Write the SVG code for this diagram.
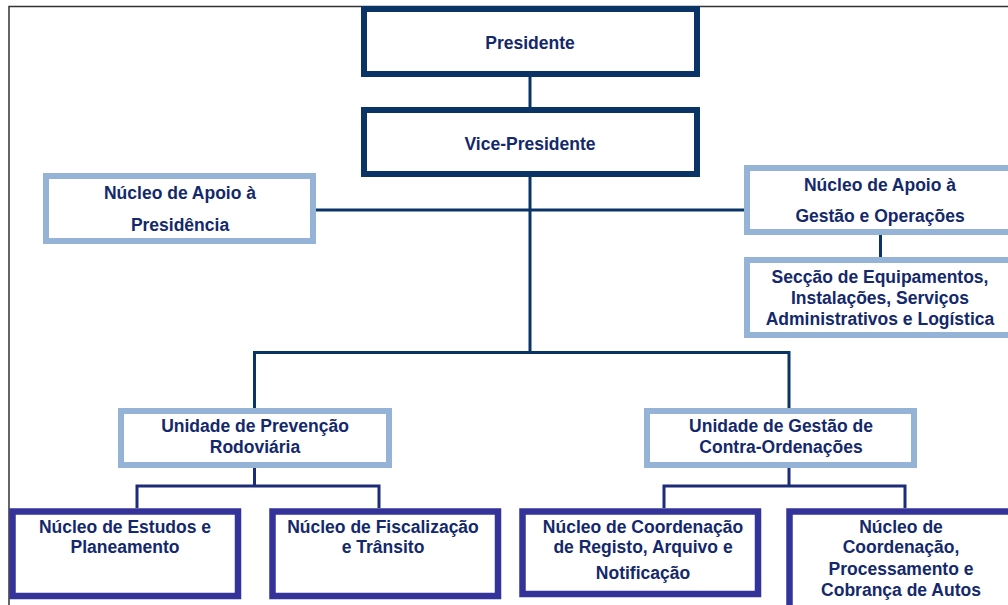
<svg xmlns="http://www.w3.org/2000/svg" width="1008" height="605" viewBox="0 0 1008 605">
<style>
text{font-family:"Liberation Sans",Arial,sans-serif;font-weight:bold;font-size:17.5px;fill:#14296b;text-anchor:middle}
.top{fill:#fff;stroke:#0a3466;stroke-width:6}
.mid{fill:#fff;stroke:#95b3d7;stroke-width:6}
.bot{fill:#fff;stroke:#333399;stroke-width:6.5}
.ln{fill:none;stroke:#0a3466;stroke-width:3}
.ln2{fill:none;stroke:#1c2c78;stroke-width:3}
.frame{fill:none;stroke:#333;stroke-width:1.5}
</style>
<rect width="1008" height="605" fill="#fff"/>
<path class="frame" d="M9,605 V6.5 H1008"/>
<g id="connectors">
<path class="ln" d="M530,77 V107"/>
<path class="ln" d="M530,177 V352"/>
<path class="ln" d="M316,210 H744"/>
<path class="ln" d="M880.5,235 V257"/>
<path class="ln" d="M254.5,408 V352.5 H789 V408"/>
<path class="ln2" d="M254.5,468 V486 M137,508 V486 H379 V508"/>
<path class="ln2" d="M789,468 V486 M664,508 V486 H905 V508"/>
</g>
<g id="presidente">
<rect class="top" x="364" y="9" width="333" height="65"/>
<text x="530" y="48.5">Presidente</text>
</g>
<g id="vice-presidente">
<rect class="top" x="364" y="110" width="333" height="64"/>
<text x="530" y="150">Vice-Presidente</text>
</g>
<g id="apoio-presidencia">
<rect class="mid" x="46" y="176" width="267" height="65"/>
<text x="180" y="199">Núcleo de Apoio à</text>
<text x="180" y="231">Presidência</text>
</g>
<g id="apoio-gestao">
<rect class="mid" x="747" y="168" width="266" height="64"/>
<text x="880" y="191">Núcleo de Apoio à</text>
<text x="880" y="222">Gestão e Operações</text>
</g>
<g id="seccao">
<rect class="mid" x="747" y="260" width="266" height="75"/>
<text x="880" y="283">Secção de Equipamentos,</text>
<text x="880" y="304">Instalações, Serviços</text>
<text x="880" y="325">Administrativos e Logística</text>
</g>
<g id="unidade-prevencao">
<rect class="mid" x="121" y="411" width="268" height="54"/>
<text x="255" y="432">Unidade de Prevenção</text>
<text x="255" y="453">Rodoviária</text>
</g>
<g id="unidade-gestao">
<rect class="mid" x="647" y="411" width="267" height="54"/>
<text x="781" y="432">Unidade de Gestão de</text>
<text x="781" y="453">Contra-Ordenações</text>
</g>
<g id="estudos">
<rect class="bot" x="12.5" y="511.5" width="225.5" height="84.5"/>
<text x="125" y="533">Núcleo de Estudos e</text>
<text x="125" y="553">Planeamento</text>
</g>
<g id="fiscalizacao">
<rect class="bot" x="272.5" y="511.5" width="225.5" height="84.5"/>
<text x="383" y="533">Núcleo de Fiscalização</text>
<text x="383" y="553">e Trânsito</text>
</g>
<g id="registo">
<rect class="bot" x="522.5" y="511.5" width="235.5" height="82.5"/>
<text x="643" y="533">Núcleo de Coordenação</text>
<text x="643" y="553">de Registo, Arquivo e</text>
<text x="643" y="579">Notificação</text>
</g>
<g id="processamento">
<rect class="bot" x="789.5" y="511.5" width="228" height="100"/>
<text x="901" y="533">Núcleo de</text>
<text x="901" y="553">Coordenação,</text>
<text x="901" y="575">Processamento e</text>
<text x="901" y="596">Cobrança de Autos</text>
</g>
</svg>
